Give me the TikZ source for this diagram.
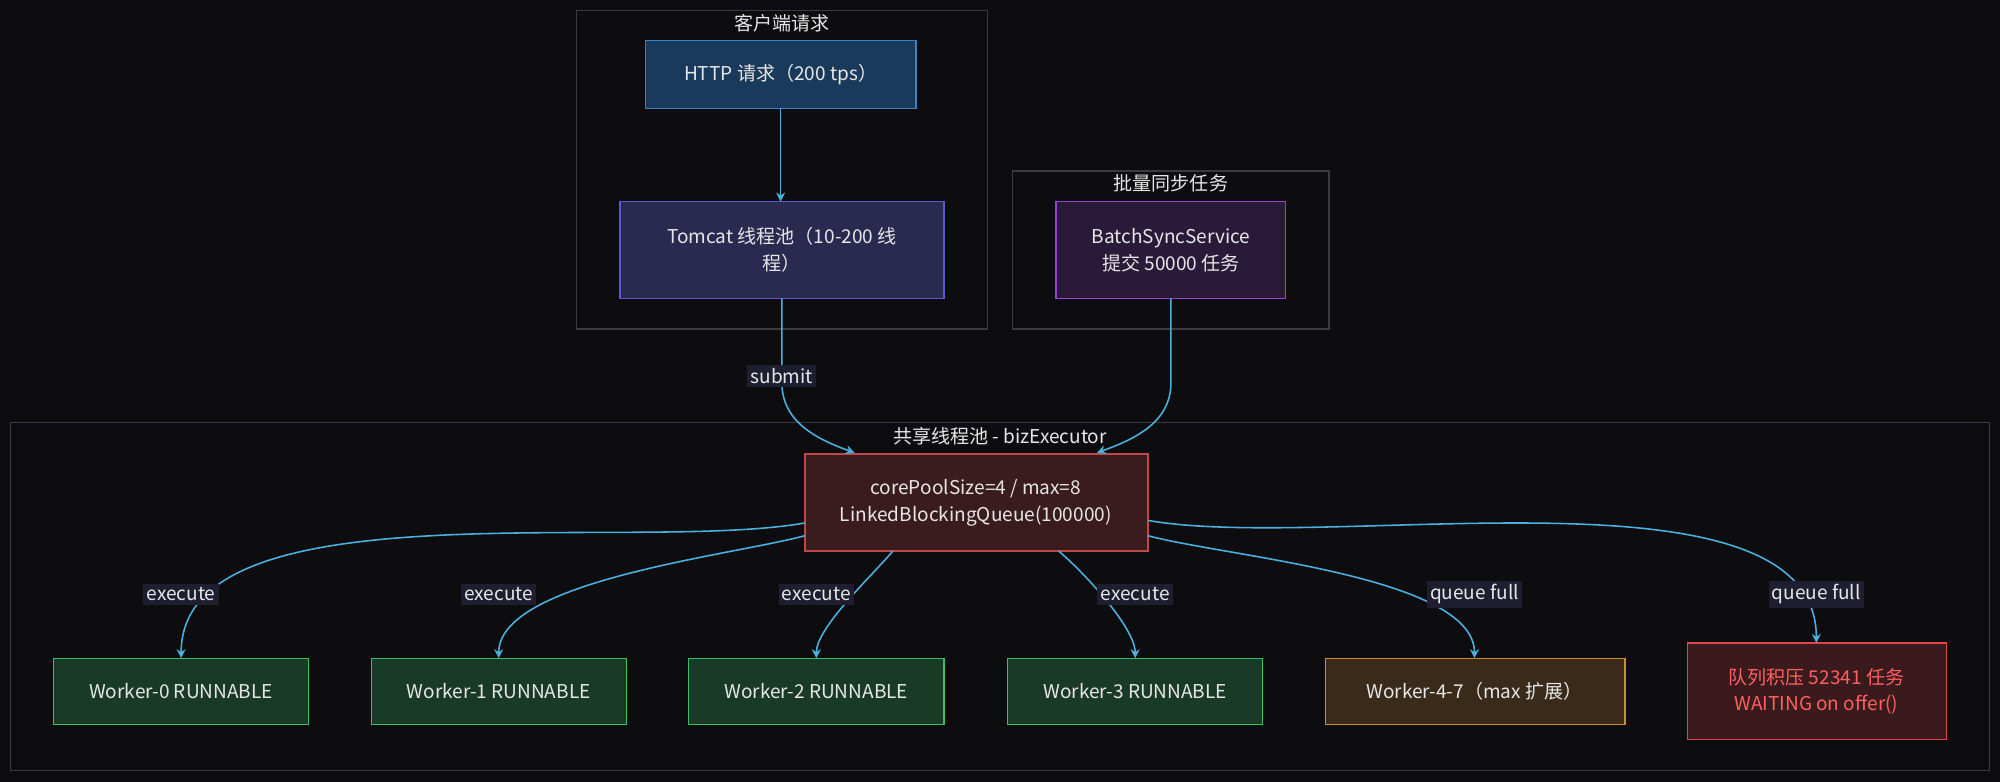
\documentclass[tikz,border=0pt]{standalone}
\usepackage{fontspec}
\setmainfont{Noto Sans CJK SC}
\usetikzlibrary{arrows.meta}
\definecolor{bg}{HTML}{0D0D0F}
\definecolor{edge}{HTML}{4AB0E0}
\definecolor{clb}{HTML}{3A3A44}
\definecolor{txt}{HTML}{E6E6E6}
\definecolor{lblbg}{HTML}{1E1E30}
\definecolor{bluD}{HTML}{3B82C4}\definecolor{bluF}{HTML}{1A3A5C}
\definecolor{indD}{HTML}{5A5AD0}\definecolor{indF}{HTML}{2A2A50}
\definecolor{purD}{HTML}{9B40D0}\definecolor{purF}{HTML}{2A1A3A}
\definecolor{redD}{HTML}{C04848}\definecolor{redF}{HTML}{3A1C1E}
\definecolor{grnD}{HTML}{3AC060}\definecolor{grnF}{HTML}{1A3A28}
\definecolor{orgD}{HTML}{D08A30}\definecolor{orgF}{HTML}{3A2A1A}
\definecolor{qD}{HTML}{E04848}\definecolor{qF}{HTML}{3A1A1C}\definecolor{qT}{HTML}{FF6060}
\begin{document}
\begin{tikzpicture}[x=0.02cm,y=-0.02cm,
  every node/.style={font=\fontsize{8.5pt}{12pt}\selectfont, text=txt, align=center},
  box/.style={draw, line width=0.6pt, inner sep=0pt},
  clus/.style={draw=clb, line width=0.6pt},
  e/.style={draw=edge, line width=0.7pt, -{Stealth[length=4pt,width=4pt]}},
  lbl/.style={fill=lblbg, inner sep=1.5pt}]
\useasboundingbox (0,0) rectangle (1568,613);
\fill[bg] (0,0) rectangle (1568,613);
% clusters
\draw[clus] (452,8) rectangle (774,258);
\node (c1) at (613,18) {客户端请求};
\draw[clus] (794,134) rectangle (1042,258);
\node (c2) at (918,144) {批量同步任务};
\draw[clus] (8,331) rectangle (1560,604);
\node (c3) at (784,342) {共享线程池 - bizExecutor};
% nodes
\draw[box, draw=bluD, fill=bluF] (506,32) rectangle (718,85);
\node (http) at (612,58.5) {HTTP 请求（200 tps）};
\draw[box, draw=indD, fill=indF] (486,158) rectangle (740,234);
\node (tom) at (613,196) {Tomcat 线程池（10-200 线\\程）};
\draw[box, draw=purD, fill=purF] (828,158) rectangle (1008,234);
\node (bat) at (918,196) {BatchSyncService\\提交 50000 任务};
\draw[box, draw=redD, fill=redF] (631,356) rectangle (900,432);
\node (core) at (765,394) {corePoolSize=4 / max=8\\LinkedBlockingQueue(100000)};
\foreach \n/\a/\b/\t in {w0/42/242/Worker-0 RUNNABLE,w1/291/491/Worker-1 RUNNABLE,w2/540/740/Worker-2 RUNNABLE,w3/790/990/Worker-3 RUNNABLE}{
  \draw[box, draw=grnD, fill=grnF] (\a,516) rectangle (\b,568);
  \node (\n) at ({(\a+\b)/2},542) {\t};
}
\draw[box, draw=orgD, fill=orgF] (1039,516) rectangle (1274,568);
\node (w4) at (1156,542) {Worker-4-7（max 扩展）};
\draw[box, draw=qD, fill=qF] (1323,504) rectangle (1526,580);
\node[text=qT] (q) at (1424,542) {队列积压 52341 任务\\WAITING on offer()};
% edges
\draw[e] (612,85) -- (612,158);
\draw[e] (613,234) -- (613,300) to[out=-90,in=160] (670,355);
\node[lbl] (ls) at (613,295) {submit};
\draw[e] (918,234) -- (918,300) to[out=-90,in=20] (860,355);
\draw[e] (631,410) to[out=190,in=90,looseness=0.7] (142,516);
\draw[e] (631,420) to[out=195,in=90,looseness=0.6] (391,516);
\draw[e] (700,432) to[out=230,in=90,looseness=0.6] (640,516);
\draw[e] (830,432) to[out=-40,in=90,looseness=0.6] (890,516);
\draw[e] (900,420) to[out=-15,in=90,looseness=0.6] (1156,516);
\draw[e] (900,408) to[out=-10,in=90,looseness=0.7] (1424,504);
\node[lbl] (l0) at (142,466) {execute};
\node[lbl] (l1) at (391,466) {execute};
\node[lbl] (l2) at (640,466) {execute};
\node[lbl] (l3) at (890,466) {execute};
\node[lbl] (l4) at (1156,466) {queue full};
\node[lbl] (l5) at (1424,466) {queue full};
\end{tikzpicture}
\end{document}
